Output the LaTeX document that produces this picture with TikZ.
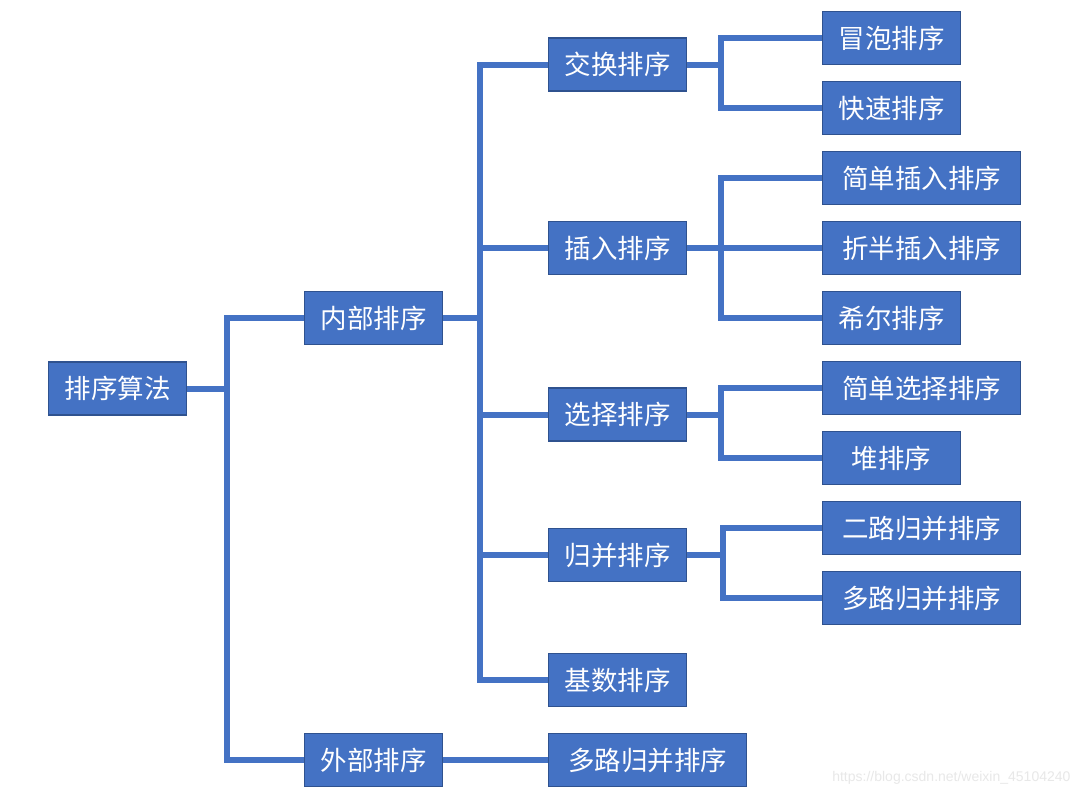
\documentclass[tikz,border=0pt]{standalone}
\usepackage{fontspec}
\usetikzlibrary{backgrounds}
\newfontfamily\cjk{Noto Sans CJK SC}
\setsansfont{Liberation Sans}
\definecolor{boxfill}{HTML}{4472C4}
\definecolor{boxline}{HTML}{2F528F}
\definecolor{conncol}{HTML}{4472C4}
\definecolor{wmark}{HTML}{E8E8E8}
\begin{document}
\begin{tikzpicture}[x=1pt,y=-1pt,
  box/.style={draw=boxline, fill=boxfill, text=white, line width=1.2pt, minimum height=53pt, minimum width=138pt, inner sep=0pt, font=\cjk\fontsize{26.5}{30}\selectfont},
  wbox/.style={box, minimum width=198pt},
  conn/.style={draw=conncol, line width=6pt, line join=miter}]
\useasboundingbox (0,0) rectangle (1082,798);
% nodes
\node[box] (root) at (117.5,388.5) {排序算法};
\node[box] (inner) at (373.5,318) {内部排序};
\node[box] (outer) at (373.5,760) {外部排序};
\node[box] (swap) at (617.5,64.5) {交换排序};
\node[box] (ins) at (617.5,248) {插入排序};
\node[box] (sel) at (617.5,414.5) {选择排序};
\node[box] (merge) at (617.5,555) {归并排序};
\node[box] (radix) at (617.5,680) {基数排序};
\node[wbox] (extm) at (647.5,760) {多路归并排序};
\node[box] (bub) at (891.5,38) {冒泡排序};
\node[box] (quick) at (891.5,108) {快速排序};
\node[wbox] (sins) at (921.5,178) {简单插入排序};
\node[wbox] (bins) at (921.5,248) {折半插入排序};
\node[box] (shell) at (891.5,318) {希尔排序};
\node[wbox] (ssel) at (921.5,388) {简单选择排序};
\node[box] (heap) at (891.5,458) {堆排序};
\node[wbox] (twom) at (921.5,528) {二路归并排序};
\node[wbox] (multm) at (921.5,598) {多路归并排序};
\node[text=wmark, font=\sffamily\fontsize{14}{16}\selectfont, anchor=east] (wm) at (1074,778) {https://blog.csdn.net/weixin\_45104240};
% junctions
\coordinate (j0) at (227,388.5);
\coordinate (j1) at (480,318);
\coordinate (j2) at (721,64.5);
\coordinate (j3) at (721,248);
\coordinate (j4) at (721,414.5);
\coordinate (j5) at (723,555);
% connectors
\begin{scope}[on background layer]
\fill[white] (0,0) rectangle (1082,798);
\draw[conn] (root.east) -- (j0);
\draw[conn] (inner.west) -| (j0) |- (outer.west);
\draw[conn] (inner.east) -- (j1);
\draw[conn] (swap.west) -| (j1) |- (radix.west);
\draw[conn] (j1 |- ins.west) -- (ins.west);
\draw[conn] (j1 |- sel.west) -- (sel.west);
\draw[conn] (j1 |- merge.west) -- (merge.west);
\draw[conn] (outer.east) -- (extm.west);
\draw[conn] (swap.east) -- (j2);
\draw[conn] (bub.west) -| (j2) |- (quick.west);
\draw[conn] (ins.east) -- (bins.west);
\draw[conn] (sins.west) -| (j3) |- (shell.west);
\draw[conn] (sel.east) -- (j4);
\draw[conn] (ssel.west) -| (j4) |- (heap.west);
\draw[conn] (merge.east) -- (j5);
\draw[conn] (twom.west) -| (j5) |- (multm.west);
\end{scope}
\end{tikzpicture}
\end{document}
